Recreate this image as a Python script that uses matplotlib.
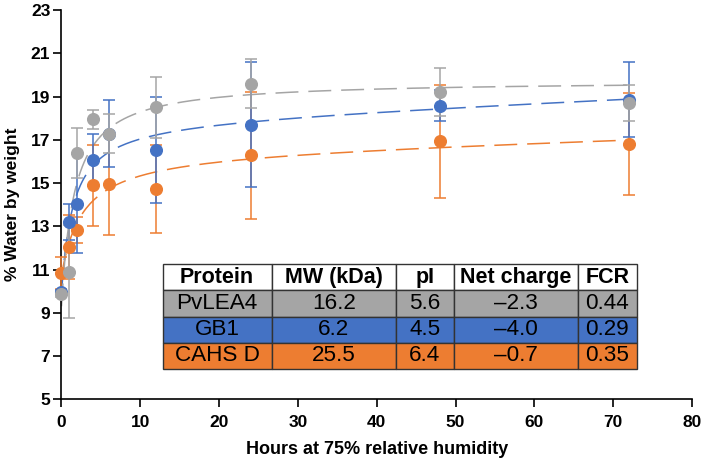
import numpy as np
import matplotlib
matplotlib.use("Agg")
import matplotlib.pyplot as plt

plt.rcParams['font.family'] = ['Liberation Sans', 'DejaVu Sans']

hours = [0, 1, 2, 4, 6, 12, 24, 48, 72]

# % water by weight, mean and error
pvlea4 = [9.85, 10.9, 16.4, 17.95, 17.28, 18.5, 19.6, 19.2, 18.7]
pvlea4_err = [0.1, 2.15, 1.15, 0.45, 0.9, 1.4, 1.15, 1.1, 0.85]
gb1 = [9.95, 13.2, 14.05, 16.05, 17.27, 16.54, 17.7, 18.58, 18.86]
gb1_err = [0.1, 0.85, 2.3, 1.2, 1.55, 2.45, 2.9, 0.73, 1.72]
cahsd = [10.83, 12.04, 12.85, 14.9, 14.96, 14.72, 16.28, 16.93, 16.82]
cahsd_err = [0.75, 1.47, 0.6, 1.87, 2.35, 2.03, 2.95, 2.6, 2.35]

col_labels = ["Protein", "MW (kDa)", "pI", "Net charge", "FCR"]
proteins = ["PvLEA4", "GB1", "CAHS D"]
mw = ["16.2", "6.2", "25.5"]
pi_vals = ["5.6", "4.5", "6.4"]
net_charge = ["\u20132.3", "\u20134.0", "\u20130.7"]
fcr = ["0.44", "0.29", "0.35"]

gray = "#A5A5A5"
blue = "#4472C4"
orange = "#ED7D31"


def sorption_fit(x, y):
    # y = y0 + A*x/(K+x) + c*x with c >= 0; grid over K, linear solve for the rest
    x = np.asarray(x, float)
    y = np.asarray(y, float)
    best = None
    for k in np.linspace(0.2, 15, 300):
        M = np.column_stack([np.ones_like(x), x / (k + x), x])
        coef, *_ = np.linalg.lstsq(M, y, rcond=None)
        if coef[2] < 0:
            c2, *_ = np.linalg.lstsq(M[:, :2], y, rcond=None)
            coef = np.array([c2[0], c2[1], 0.0])
        sse = np.sum((M @ coef - y) ** 2)
        if best is None or sse < best[0]:
            best = (sse, k, coef)
    _, k, coef = best
    return lambda t: coef[0] + coef[1] * t / (k + t) + coef[2] * t


fig = plt.figure(figsize=(7.09, 4.62), dpi=100)
ax = fig.add_axes([0.0867, 0.1357, 0.8893, 0.8426])

series = [(cahsd, cahsd_err, orange), (gb1, gb1_err, blue), (pvlea4, pvlea4_err, gray)]

xs = np.linspace(0, 72, 300)
for vals, errs, c in series:
    f = sorption_fit(hours, vals)
    ax.plot(xs, f(xs), color=c, lw=1.1, linestyle=(0, (15, 6.5)), zorder=2)

for vals, errs, c in series:
    ax.errorbar(hours, vals, yerr=errs, fmt='o', color=c, ms=8.4, mec=c,
                elinewidth=1.1, capsize=4, capthick=1.1, zorder=3, clip_on=False)

ax.set_xlim(0, 80)
ax.set_ylim(5, 23)
ax.set_xticks(range(0, 81, 10))
ax.set_yticks(range(5, 24, 2))
for s in ["top", "right"]:
    ax.spines[s].set_visible(False)
for s in ["left", "bottom"]:
    ax.spines[s].set_linewidth(1.2)
ax.tick_params(axis='both', width=1.2, length=5.5, labelsize=12.5)
ax.tick_params(axis='x', pad=6)
ax.tick_params(axis='y', pad=2.5)
for lab in ax.get_xticklabels() + ax.get_yticklabels():
    lab.set_fontweight('bold')

ax.set_xlabel("Hours at 75% relative humidity", fontsize=13, fontweight='bold', labelpad=8)
ax.set_ylabel("% Water by weight", fontsize=12.5, fontweight='bold', labelpad=8)

rows = [list(r) for r in zip(proteins, mw, pi_vals, net_charge, fcr)]
row_colors = [gray, blue, orange]
cell_text = [col_labels] + rows
cell_colours = [["white"] * 5] + [[rc] * 5 for rc in row_colors]
tbl = ax.table(cellText=cell_text, cellColours=cell_colours,
               colWidths=[0.2298, 0.2621, 0.1223, 0.2614, 0.1244],
               cellLoc='center', bbox=[0.1605, 0.0778, 0.752, 0.2697])
tbl.auto_set_font_size(False)
for (r, c), cell in tbl.get_celld().items():
    cell.set_edgecolor("#333333")
    cell.set_linewidth(1.0)
    txt = cell.get_text()
    if r == 0:
        txt.set_fontsize(15.5)
        txt.set_fontweight('bold')
    else:
        txt.set_fontsize(16.2)
tbl.set_zorder(5)

fig.savefig("out.png", dpi=100)
